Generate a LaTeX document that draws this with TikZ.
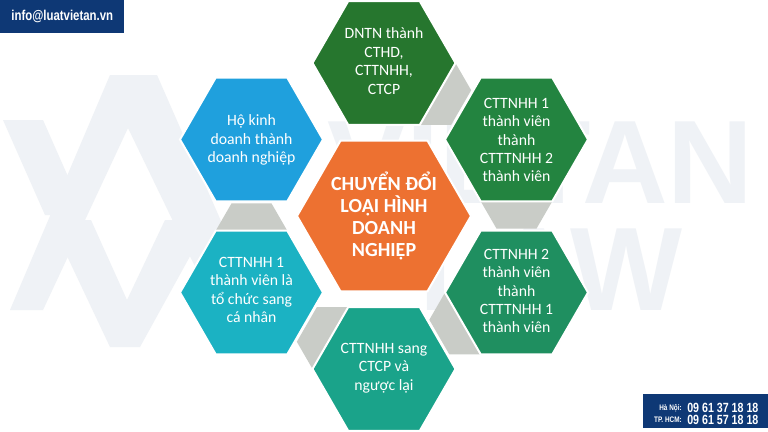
\documentclass[tikz,border=0pt]{standalone}
\usepackage{fontspec}
\setmainfont{Carlito}
\newfontfamily\condfont[FakeStretch=0.8]{Liberation Sans}
\newfontfamily\wmfont{Liberation Sans}
\usetikzlibrary{shapes.geometric,calc}
\definecolor{navy}{RGB}{14,56,117}
\definecolor{cT}{RGB}{38,118,46}
\definecolor{cTR}{RGB}{35,132,64}
\definecolor{cBR}{RGB}{31,143,96}
\definecolor{cB}{RGB}{26,163,138}
\definecolor{cBL}{RGB}{27,178,195}
\definecolor{cTL}{RGB}{31,160,221}
\definecolor{cC}{RGB}{237,113,49}
\definecolor{linkgray}{RGB}{201,204,199}
\definecolor{wm}{RGB}{239,242,246}
\tikzset{
  hexo/.style={regular polygon, regular polygon sides=6, minimum size=107.25pt, inner sep=0pt, draw=white, line width=1.5pt},
  hexc/.style={regular polygon, regular polygon sides=6, minimum size=130.5pt, inner sep=0pt, draw=white, line width=1.5pt, fill=cC},
  hexg/.style={regular polygon, regular polygon sides=6, minimum size=60pt, inner sep=0pt, fill=linkgray},
  otxt/.style={align=center, text=white, inner sep=0pt, font=\fontsize{11.8}{13.8}\selectfont},
  ctxt/.style={align=center, text=white, inner sep=0pt, font=\bfseries\fontsize{15}{16.3}\selectfont},
  wmshape/.style={fill=wm},
}
\begin{document}
\begin{tikzpicture}[x=0.75pt,y=-0.75pt]
\useasboundingbox (0,0) rectangle (768,432);
\fill[white] (0,0) rectangle (768,432);
% watermark logo
\fill[wmshape] (110,75) -- (157,75) -- (260,310) -- (216,310) -- (128,128) -- (43,310) -- (10,310) -- cycle;
\fill[wmshape] (3,120) -- (43,120) -- (85,215) -- (45,215) -- cycle;
\fill[wmshape] (50,220) -- (91,220) -- (127,300) -- (165,220) -- (210,220) -- (140,347) -- (110,347) -- cycle;
\node[anchor=base west, text=wm, inner sep=0pt, font=\wmfont\bfseries\fontsize{89}{89}\selectfont] (wma) at (327,203) {VIETAN};
\node[anchor=base west, text=wm, inner sep=0pt, font=\wmfont\bfseries\fontsize{89}{89}\selectfont] (wmb) at (419,310) {LAW};
% centres
\coordinate (pT) at (384,63);
\coordinate (pTR) at (516.5,139.5);
\coordinate (pBR) at (516.5,292.5);
\coordinate (pB) at (384,369);
\coordinate (pBL) at (251.5,292.5);
\coordinate (pTL) at (251.5,139.5);
\coordinate (pC) at (384,216);
% gray links
\node[hexg] (g1) at ($(pT)!0.356!(pTR)$) {};
\node[hexg] (g2) at ($(pTR)!0.356!(pBR)$) {};
\node[hexg] (g3) at ($(pBR)!0.356!(pB)$) {};
\node[hexg] (g4) at ($(pB)!0.356!(pBL)$) {};
\node[hexg] (g5) at ($(pBL)!0.356!(pTL)$) {};
% hexagons
\node[hexo, fill=cT] (hT) at (pT) {};
\node[hexo, fill=cTR] (hTR) at (pTR) {};
\node[hexo, fill=cBR] (hBR) at (pBR) {};
\node[hexo, fill=cB] (hB) at (pB) {};
\node[hexo, fill=cBL] (hBL) at (pBL) {};
\node[hexo, fill=cTL] (hTL) at (pTL) {};
\node[hexc] (hC) at (pC) {};
% texts
\node[otxt] (tT) at (384,61) {DNTN thành\\CTHD,\\CTTNHH,\\CTCP};
\node[otxt] (tTR) at (516.5,140) {CTTNHH 1\\thành viên\\thành\\CTTTNHH 2\\thành viên};
\node[otxt] (tBR) at (516.5,291) {CTTNHH 2\\thành viên\\thành\\CTTTNHH 1\\thành viên};
\node[otxt] (tB) at (384,368) {CTTNHH sang\\CTCP và\\ngược lại};
\node[otxt] (tBL) at (251.5,290) {CTTNHH 1\\thành viên là\\tổ chức sang\\cá nhân};
\node[otxt] (tTL) at (251.5,140) {Hộ kinh\\doanh thành\\doanh nghiệp};
\node[ctxt] (tC) at (384,216) {CHUYỂN ĐỔI\\LOẠI HÌNH\\DOANH\\NGHIỆP};
% header email
\node[fill=navy, anchor=north west, minimum width=93pt, minimum height=24.75pt, inner sep=0pt, text=white, font=\condfont\bfseries\fontsize{10.7}{12}\selectfont] (mail) at (0,0) {info@luatvietan.vn};
% phone box
\node[fill=navy, anchor=north west, minimum width=93.75pt, minimum height=25.5pt, inner sep=0pt] (phone) at (643,394) {};
\node[anchor=east, text=white, inner sep=0pt, font=\condfont\bfseries\fontsize{6}{7}\selectfont] (hn) at (682,408) {Hà Nội:};
\node[anchor=west, text=white, inner sep=0pt, font=\condfont\bfseries\fontsize{10}{11}\selectfont] (n1) at (687,408) {09 61 37 18 18};
\node[anchor=east, text=white, inner sep=0pt, font=\condfont\bfseries\fontsize{6}{7}\selectfont] (hcm) at (682,420) {TP. HCM:};
\node[anchor=west, text=white, inner sep=0pt, font=\condfont\bfseries\fontsize{10}{11}\selectfont] (n2) at (687,420) {09 61 57 18 18};
\end{tikzpicture}
\end{document}
